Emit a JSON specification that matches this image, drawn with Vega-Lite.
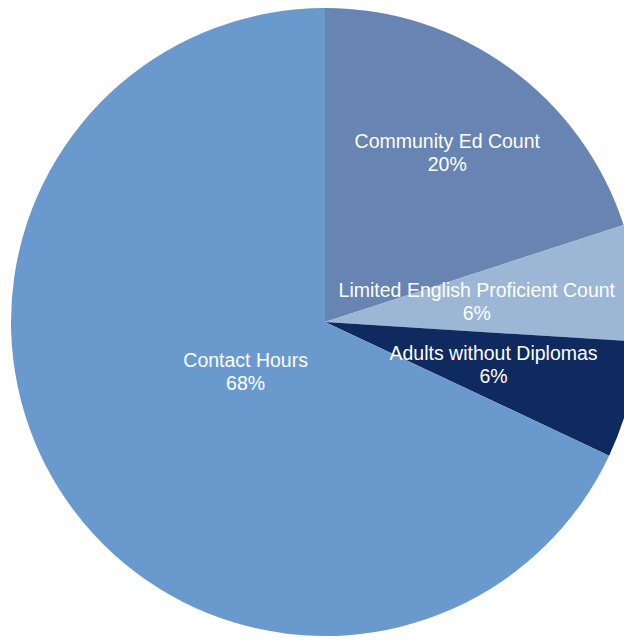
{
  "$schema": "https://vega.github.io/schema/vega-lite/v6.json",
  "description": "Share of program measures",
  "width": 628,
  "height": 628,
  "autosize": {"type": "none"},
  "padding": {"left": 11, "top": 8, "right": 0, "bottom": 0},
  "data": {
    "values": [
      {"category": "Community Ed Count", "share": 20, "rank": 1},
      {"category": "Limited English Proficient Count", "share": 6, "rank": 2},
      {"category": "Adults without Diplomas", "share": 6, "rank": 3},
      {"category": "Contact Hours", "share": 68, "rank": 4}
    ]
  },
  "transform": [
    {"calculate": "datum.category + '\\n' + datum.share + '%'", "as": "label"}
  ],
  "encoding": {
    "theta": {"field": "share", "type": "quantitative", "stack": true},
    "order": {"field": "rank", "type": "quantitative"}
  },
  "layer": [
    {
      "mark": {"type": "arc"},
      "encoding": {
        "color": {
          "field": "category",
          "type": "nominal",
          "scale": {
            "domain": ["Community Ed Count", "Limited English Proficient Count", "Adults without Diplomas", "Contact Hours"],
            "range": ["#6784b3", "#9cb6d6", "#0f2a5f", "#6a9acd"]
          },
          "legend": null
        }
      }
    },
    {
      "mark": {
        "type": "text",
        "radius": {"expr": "datum.category == 'Contact Hours' ? 94 : datum.category == 'Community Ed Count' ? 208 : datum.category == 'Limited English Proficient Count' ? 153 : 174"},
        "fill": "#ffffff",
        "font": "Liberation Sans",
        "fontSize": 19.5,
        "lineBreak": "\n",
        "lineHeight": 23,
        "align": "center",
        "baseline": "middle",
        "dy": -11.5
      },
      "encoding": {
        "text": {"field": "label", "type": "nominal"}
      }
    }
  ],
  "config": {
    "view": {"stroke": null}
  }
}
